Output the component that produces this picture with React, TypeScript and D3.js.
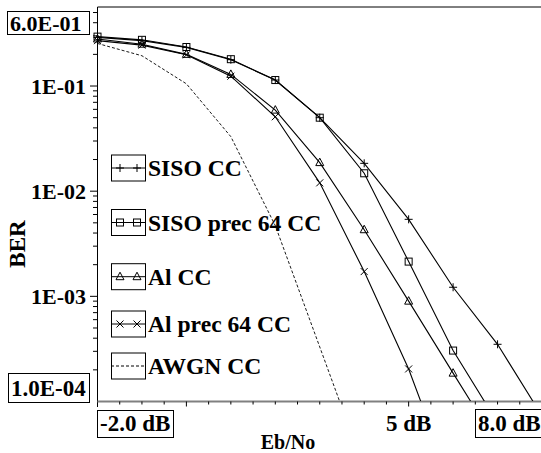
import React from 'react';
import * as d3 from 'd3';

// Eb/No points (dB) and BER values
const ebNo = [-2, -1, 0, 1, 2, 3, 4, 5, 6, 7, 8];
const sisoCC = [0.29, 0.27, 0.233, 0.178, 0.114, 0.05, 0.0184, 0.0054, 0.00122, 0.00035, 0.000073];
const sisoPrecCC = [0.295, 0.275, 0.235, 0.18, 0.114, 0.05, 0.0148, 0.00214, 0.000305, 0.000063];
const alCC = [0.28, 0.25, 0.2, 0.129, 0.059, 0.0187, 0.0043, 0.0009, 0.000186, 0.000039];
const alPrecCC = [0.27, 0.245, 0.198, 0.124, 0.051, 0.012, 0.00172, 0.000204, 0.000015];
const awgnCC = [0.254, 0.194, 0.105, 0.033, 0.0047, 0.00033, 0.000023];

const legendNames = ['SISO CC', 'SISO prec 64 CC', 'Al CC', 'Al prec 64 CC', 'AWGN CC'];
const legendY = [168, 222.5, 276.7, 324, 366];
const yTickLabels = ['1E-01', '1E-02', '1E-03'];
const yTickValues = [1e-1, 1e-2, 1e-3];

const W = 541;
const H = 453;
const left = 97.5;
const bottom = 401.5;
const top = 7;
const font = '"Liberation Serif", "Times New Roman", serif';

const x = d3.scaleLinear().domain([-2, 8]).range([left, 542]);
const y = d3.scaleLog().domain([1e-4, 0.6]).range([bottom, 4.2]);

type Mk = 'plus' | 'square' | 'tri' | 'cross' | 'none';

const series: { name: string; values: number[]; marker: Mk; dash?: string }[] = [
  { name: legendNames[0], values: sisoCC, marker: 'plus' },
  { name: legendNames[1], values: sisoPrecCC, marker: 'square' },
  { name: legendNames[2], values: alCC, marker: 'tri' },
  { name: legendNames[3], values: alPrecCC, marker: 'cross' },
  { name: legendNames[4], values: awgnCC, marker: 'none', dash: '3,2' },
];

function Marker({ kind, cx, cy }: { kind: Mk; cx: number; cy: number }) {
  const p = { fill: 'none', stroke: '#000', strokeWidth: 1 };
  if (kind === 'plus') return <path d={`M${cx - 4},${cy}H${cx + 4}M${cx},${cy - 4}V${cy + 4}`} {...p} />;
  if (kind === 'square') return <rect x={cx - 3.5} y={cy - 3.5} width={7} height={7} {...p} />;
  if (kind === 'tri') return <path d={`M${cx},${cy - 4.5}L${cx + 4},${cy + 3}L${cx - 4},${cy + 3}Z`} {...p} />;
  if (kind === 'cross') return <path d={`M${cx - 3.5},${cy - 3.5}L${cx + 3.5},${cy + 3.5}M${cx - 3.5},${cy + 3.5}L${cx + 3.5},${cy - 3.5}`} {...p} />;
  return null;
}

export default function App() {
  const line = d3
    .line<number>()
    .x((_, i) => x(ebNo[i]))
    .y((v) => y(v));

  const minorY = y.ticks().filter((t) => t < 0.55 && t > 1e-4 && !yTickValues.some((m) => Math.abs(m - t) / m < 1e-6));
  const xTicks = d3.range(-1.5, 8.01, 0.5);

  return (
    <svg width={W} height={H} style={{ position: 'absolute', left: 0, top: 0, background: '#fff' }} fontFamily={font} fontWeight="bold">
      <defs>
        <clipPath id="plot">
          <rect x={88} y={0} width={470} height={bottom - 0.5} />
        </clipPath>
      </defs>

      {/* frame */}
      <line x1={left} x2={W} y1={top} y2={top} stroke="#000" strokeWidth={1} />
      <line x1={left} x2={left} y1={top} y2={407} stroke="#000" strokeWidth={1} />
      <line x1={left} x2={W} y1={bottom} y2={bottom} stroke="#808080" strokeWidth={2} />

      {/* y ticks */}
      {minorY.map((t) => (
        <line key={'my' + t} x1={93} x2={left} y1={y(t)} y2={y(t)} stroke="#000" />
      ))}
      {yTickValues.map((t, i) => (
        <g key={'Y' + t}>
          <line x1={90} x2={left} y1={y(t)} y2={y(t)} stroke="#000" />
          <text x={86} y={y(t) + 8} textAnchor="end" fontSize={22}>
            {yTickLabels[i]}
          </text>
        </g>
      ))}

      {/* x ticks */}
      {xTicks.map((t) => {
        const major = t === 0 || t === 5;
        return <line key={'x' + t} x1={x(t)} x2={x(t)} y1={bottom} y2={bottom + (major ? 5 : 3)} stroke="#000" />;
      })}

      {/* series */}
      <g clipPath="url(#plot)">
        {series.map((s) => (
          <g key={s.name}>
            <path d={line(s.values) || ''} fill="none" stroke="#000" strokeWidth={s.dash ? 0.9 : 1.1} strokeDasharray={s.dash} />
            {s.values.map((v, i) => (
              <Marker key={i} kind={s.marker} cx={x(ebNo[i])} cy={y(v)} />
            ))}
          </g>
        ))}
      </g>

      {/* legend */}
      {series.map((s, i) => {
        const cy = legendY[i];
        const bx = 111;
        return (
          <g key={'lg' + s.name}>
            <rect x={bx + 0.5} y={cy - 13} width={34} height={26} fill="#fff" stroke="#000" strokeWidth={1} />
            <line x1={bx} x2={bx + 35} y1={cy} y2={cy} stroke="#000" strokeDasharray={s.dash} />
            <Marker kind={s.marker} cx={bx + 9} cy={cy} />
            <Marker kind={s.marker} cx={bx + 26} cy={cy} />
            <text x={bx + 37} y={cy + 8} fontSize={23.6}>
              {s.name}
            </text>
          </g>
        );
      })}

      {/* boxed range labels */}
      <rect x={7.5} y={11.5} width={82} height={23} fill="#fff" stroke="#000" />
      <text x={10} y={31} fontSize={22}>6.0E-01</text>
      <rect x={8.5} y={373.5} width={81} height={29} fill="#fff" stroke="#000" />
      <text x={11} y={396} fontSize={23}>1.0E-04</text>
      <rect x={97.5} y={410.5} width={76} height={27} fill="#fff" stroke="#000" />
      <text x={100} y={431} fontSize={23}>-2.0 dB</text>
      <rect x={475.5} y={409.5} width={80} height={28} fill="#fff" stroke="#000" />
      <text x={478} y={431} fontSize={23}>8.0 dB</text>
      <text x={x(5)} y={431} fontSize={23} textAnchor="middle">5 dB</text>

      {/* axis titles */}
      <text x={288} y={449} fontSize={20} textAnchor="middle">Eb/No</text>
      <text transform="translate(25,244) rotate(-90)" fontSize={23} textAnchor="middle">BER</text>
    </svg>
  );
}
